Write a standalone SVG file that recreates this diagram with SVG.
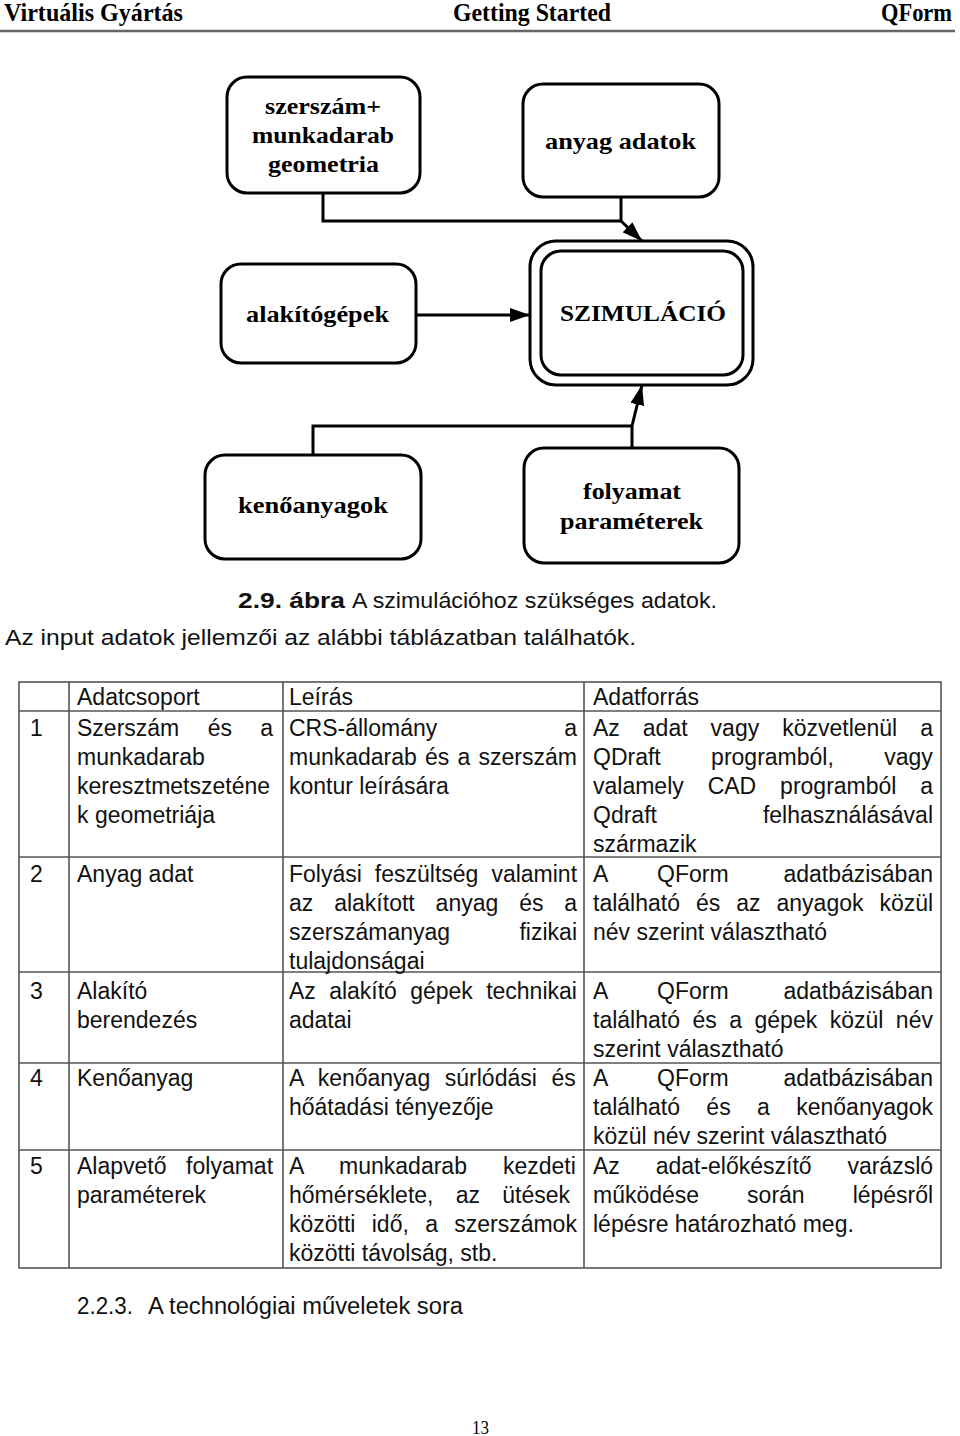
<svg xmlns="http://www.w3.org/2000/svg" width="960" height="1436" viewBox="0 0 960 1436">
<style>
.hd{font-family:"Liberation Serif",serif;font-weight:bold;font-size:25px;fill:#000}
.box{fill:#fff;stroke:#000;stroke-width:3}
.lbl{font-family:"Liberation Serif",serif;font-weight:bold;font-size:24px;fill:#000}
.conn{fill:none;stroke:#000;stroke-width:3}
.t{font-family:"Liberation Sans",Arial,sans-serif;font-size:23px;fill:#111}
.tb{font-family:"Liberation Sans",Arial,sans-serif;font-size:22px;font-weight:bold;fill:#111}
.c{font-family:"Liberation Sans",Arial,sans-serif;font-size:22px;fill:#111}
.e{text-anchor:end}
.grid{stroke:#555;stroke-width:1.6;fill:none}
.pg{font-family:"Liberation Serif",serif;font-size:18px;fill:#000}
</style>
<defs>
<marker id="ah" viewBox="0 0 20 14" refX="20" refY="7" markerWidth="20" markerHeight="14" markerUnits="userSpaceOnUse" orient="auto">
<path d="M0,0 L20,7 L0,14 z" fill="#000"/>
</marker>
</defs>
<rect width="960" height="1436" fill="#fff"/>

<g id="header">
<text class="hd" x="4" y="21" textLength="179" lengthAdjust="spacingAndGlyphs">Virtuális Gyártás</text>
<text class="hd" x="453" y="21" textLength="158" lengthAdjust="spacingAndGlyphs">Getting Started</text>
<text class="hd" x="881" y="21" textLength="71" lengthAdjust="spacingAndGlyphs">QForm</text>
<line x1="0" y1="31" x2="955" y2="31" stroke="#666" stroke-width="2.5"/>
</g>

<g id="connectors">
<polyline class="conn" points="323,193 323,221 621,221"/>
<line class="conn" x1="621" y1="197" x2="621" y2="221"/>
<line class="conn" x1="621" y1="221" x2="642" y2="241" marker-end="url(#ah)"/>
<line class="conn" x1="416" y1="315" x2="530" y2="315" marker-end="url(#ah)"/>
<polyline class="conn" points="313,455 313,426 632,426"/>
<line class="conn" x1="632" y1="448" x2="632" y2="426"/>
<line class="conn" x1="632" y1="426" x2="642" y2="385" marker-end="url(#ah)"/>
</g>

<g id="node-geometria">
<rect class="box" x="227" y="77" width="193" height="116" rx="20"/>
<text class="lbl" x="265" y="114" textLength="116" lengthAdjust="spacingAndGlyphs">szerszám+</text>
<text class="lbl" x="252" y="143" textLength="142" lengthAdjust="spacingAndGlyphs">munkadarab</text>
<text class="lbl" x="268" y="172" textLength="111" lengthAdjust="spacingAndGlyphs">geometria</text>
</g>
<g id="node-anyag">
<rect class="box" x="523" y="84" width="196" height="113" rx="20"/>
<text class="lbl" x="545" y="149" textLength="151" lengthAdjust="spacingAndGlyphs">anyag adatok</text>
</g>
<g id="node-alakitogepek">
<rect class="box" x="221" y="264" width="195" height="99" rx="20"/>
<text class="lbl" x="246" y="322" textLength="143" lengthAdjust="spacingAndGlyphs">alakítógépek</text>
</g>
<g id="node-szimulacio">
<rect class="box" x="530" y="241" width="223" height="144" rx="26"/>
<rect class="box" x="541" y="251" width="202" height="124" rx="20"/>
<text class="lbl" x="560" y="321" textLength="166" lengthAdjust="spacingAndGlyphs">SZIMULÁCIÓ</text>
</g>
<g id="node-kenoanyagok">
<rect class="box" x="205" y="455" width="216" height="104" rx="20"/>
<text class="lbl" x="238" y="513" textLength="150" lengthAdjust="spacingAndGlyphs">kenőanyagok</text>
</g>
<g id="node-folyamat">
<rect class="box" x="524" y="448" width="215" height="115" rx="20"/>
<text class="lbl" x="583" y="499" textLength="98" lengthAdjust="spacingAndGlyphs">folyamat</text>
<text class="lbl" x="560" y="529" textLength="143" lengthAdjust="spacingAndGlyphs">paraméterek</text>
</g>

<g id="captions">
<text class="tb" x="238" y="608" textLength="107" lengthAdjust="spacingAndGlyphs">2.9. ábra</text>
<text class="c" x="352" y="608" textLength="365" lengthAdjust="spacingAndGlyphs">A szimulációhoz szükséges adatok.</text>
<text class="c" x="5" y="645" textLength="631" lengthAdjust="spacingAndGlyphs">Az input adatok jellemzői az alábbi táblázatban találhatók.</text>
</g>

<g id="table">
<rect class="grid" x="19" y="682" width="922" height="586"/>
<line class="grid" x1="69" y1="682" x2="69" y2="1268"/>
<line class="grid" x1="283" y1="682" x2="283" y2="1268"/>
<line class="grid" x1="584" y1="682" x2="584" y2="1268"/>
<line class="grid" x1="19" y1="711" x2="941" y2="711"/>
<line class="grid" x1="19" y1="857" x2="941" y2="857"/>
<line class="grid" x1="19" y1="972" x2="941" y2="972"/>
<line class="grid" x1="19" y1="1063" x2="941" y2="1063"/>
<line class="grid" x1="19" y1="1150" x2="941" y2="1150"/>

<text class="t" x="77" y="705">Adatcsoport</text>
<text class="t" x="289" y="705">Leírás</text>
<text class="t" x="593" y="705">Adatforrás</text>

<text class="t" x="30" y="736">1</text>
<text class="t" x="77" y="736" word-spacing="22">Szerszám és a</text>
<text class="t" x="77" y="765">munkadarab</text>
<text class="t" x="77" y="794">keresztmetszeténe</text>
<text class="t" x="77" y="823">k geometriája</text>
<text class="t" x="289" y="736">CRS-állomány</text>
<text class="t e" x="577" y="736">a</text>
<text class="t" x="289" y="765" word-spacing="1.8">munkadarab és a szerszám</text>
<text class="t" x="289" y="794">kontur leírására</text>
<text class="t" x="593" y="736" word-spacing="16.6">Az adat vagy közvetlenül a</text>
<text class="t" x="593" y="765" word-spacing="44">QDraft programból, vagy</text>
<text class="t" x="593" y="794" word-spacing="17.5">valamely CAD programból a</text>
<text class="t" x="593" y="823">Qdraft</text>
<text class="t e" x="933" y="823">felhasználásával</text>
<text class="t" x="593" y="852">származik</text>

<text class="t" x="30" y="882">2</text>
<text class="t" x="77" y="882">Anyag adat</text>
<text class="t" x="289" y="882" word-spacing="6.6">Folyási feszültség valamint</text>
<text class="t" x="289" y="911" word-spacing="14.5">az alakított anyag és a</text>
<text class="t" x="289" y="940">szerszámanyag</text>
<text class="t e" x="577" y="940">fizikai</text>
<text class="t" x="289" y="969">tulajdonságai</text>
<text class="t" x="593" y="882">A</text>
<text class="t" x="657" y="882">QForm</text>
<text class="t e" x="933" y="882">adatbázisában</text>
<text class="t" x="593" y="911" word-spacing="9.6">található és az anyagok közül</text>
<text class="t" x="593" y="940">név szerint választható</text>

<text class="t" x="30" y="999">3</text>
<text class="t" x="77" y="999">Alakító</text>
<text class="t" x="77" y="1028">berendezés</text>
<text class="t" x="289" y="999" word-spacing="6.9">Az alakító gépek technikai</text>
<text class="t" x="289" y="1028">adatai</text>
<text class="t" x="593" y="999">A</text>
<text class="t" x="657" y="999">QForm</text>
<text class="t e" x="933" y="999">adatbázisában</text>
<text class="t" x="593" y="1028" word-spacing="6.1">található és a gépek közül név</text>
<text class="t" x="593" y="1057">szerint választható</text>

<text class="t" x="30" y="1086">4</text>
<text class="t" x="77" y="1086">Kenőanyag</text>
<text class="t" x="289" y="1086" word-spacing="8.2">A kenőanyag súrlódási és</text>
<text class="t" x="289" y="1115">hőátadási tényezője</text>
<text class="t" x="593" y="1086">A</text>
<text class="t" x="657" y="1086">QForm</text>
<text class="t e" x="933" y="1086">adatbázisában</text>
<text class="t" x="593" y="1115" word-spacing="20">található és a kenőanyagok</text>
<text class="t" x="593" y="1144">közül név szerint választható</text>

<text class="t" x="30" y="1174">5</text>
<text class="t" x="77" y="1174" word-spacing="13.2">Alapvető folyamat</text>
<text class="t" x="77" y="1203">paraméterek</text>
<text class="t" x="289" y="1174" word-spacing="29.6">A munkadarab kezdeti</text>
<text class="t" x="289" y="1203" word-spacing="15.9">hőmérséklete, az ütések</text>
<text class="t" x="289" y="1232" word-spacing="9.9">közötti idő, a szerszámok</text>
<text class="t" x="289" y="1261">közötti távolság, stb.</text>
<text class="t" x="593" y="1174" word-spacing="29.4">Az adat-előkészítő varázsló</text>
<text class="t" x="593" y="1203" word-spacing="41.6">működése során lépésről</text>
<text class="t" x="593" y="1232">lépésre határozható meg.</text>
</g>

<g id="footer">
<text class="t" x="77" y="1314" font-size="24" textLength="56" lengthAdjust="spacingAndGlyphs">2.2.3.</text>
<text class="t" x="148" y="1314" font-size="24" textLength="315" lengthAdjust="spacingAndGlyphs">A technológiai műveletek sora</text>
<text class="pg" x="472" y="1434" textLength="17" lengthAdjust="spacingAndGlyphs">13</text>
</g>
</svg>
